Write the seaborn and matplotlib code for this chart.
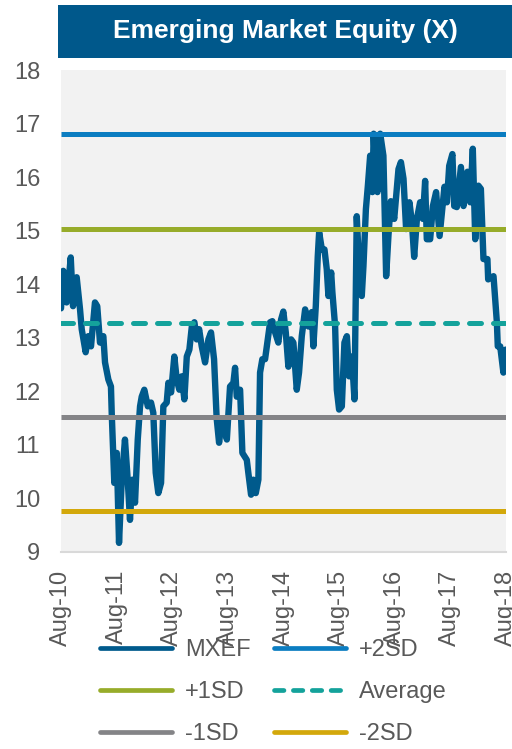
import matplotlib
matplotlib.use("Agg")
import matplotlib.pyplot as plt
import matplotlib.dates as mdates
from matplotlib.lines import Line2D
from matplotlib.patches import Rectangle
import pandas as pd
import seaborn as sns

# MXEF forward P/E observations
dates = [
    "2010-08-01", "2010-08-16", "2010-09-07", "2010-10-04", "2010-10-19", "2010-11-12",
    "2010-12-04", "2010-12-15", "2011-01-10", "2011-01-27", "2011-02-14", "2011-03-12",
    "2011-03-27", "2011-04-14", "2011-05-06", "2011-05-17", "2011-06-08", "2011-06-25",
    "2011-06-30", "2011-07-17", "2011-08-02", "2011-08-17", "2011-09-04", "2011-09-25",
    "2011-10-13", "2011-10-28", "2011-11-12", "2011-11-30", "2011-12-18", "2012-01-02",
    "2012-01-13", "2012-01-30", "2012-02-22", "2012-03-14", "2012-03-29", "2012-04-14",
    "2012-05-01", "2012-05-19", "2012-06-03", "2012-06-25", "2012-07-06", "2012-07-24",
    "2012-08-14", "2012-08-30", "2012-09-16", "2012-10-02", "2012-10-19", "2012-11-04",
    "2012-11-21", "2012-12-07", "2012-12-24", "2013-01-08", "2013-01-24", "2013-02-10",
    "2013-03-04", "2013-03-26", "2013-04-12", "2013-05-02", "2013-05-19", "2013-06-04",
    "2013-06-22", "2013-07-09", "2013-07-25", "2013-08-15", "2013-09-06", "2013-09-17",
    "2013-09-28", "2013-10-20", "2013-11-04", "2013-12-03", "2013-12-13", "2013-12-31",
    "2014-01-15", "2014-01-31", "2014-02-17", "2014-02-28", "2014-03-15", "2014-04-02",
    "2014-04-20", "2014-05-05", "2014-05-20", "2014-06-07", "2014-06-28", "2014-07-16",
    "2014-07-31", "2014-08-16", "2014-09-02", "2014-09-20", "2014-10-05", "2014-10-27",
    "2014-11-11", "2014-11-29", "2014-12-21", "2015-01-12", "2015-02-03", "2015-02-13",
    "2015-03-01", "2015-03-14", "2015-03-23", "2015-04-10", "2015-04-27", "2015-05-12",
    "2015-05-23", "2015-06-10", "2015-06-18", "2015-07-06", "2015-07-17", "2015-08-01",
    "2015-08-19", "2015-09-05", "2015-09-21", "2015-10-06", "2015-10-24", "2015-11-10",
    "2015-11-25", "2015-12-11", "2015-12-28", "2016-01-08", "2016-01-24", "2016-02-06",
    "2016-02-21", "2016-03-07", "2016-03-15", "2016-03-25", "2016-04-09", "2016-04-27",
    "2016-05-18", "2016-06-05", "2016-06-20", "2016-07-06", "2016-07-28", "2016-08-25",
    "2016-09-10", "2016-09-27", "2016-10-14", "2016-11-05", "2016-11-21", "2016-12-06",
    "2016-12-24", "2017-01-14", "2017-02-01", "2017-02-16", "2017-02-27", "2017-03-21",
    "2017-04-08", "2017-04-29", "2017-05-22", "2017-06-23", "2017-07-09", "2017-07-24",
    "2017-08-14", "2017-08-26", "2017-09-12", "2017-10-09", "2017-10-26", "2017-11-21",
    "2017-12-09", "2017-12-26", "2018-01-11", "2018-02-01", "2018-02-17", "2018-03-06",
    "2018-04-01", "2018-04-06", "2018-05-11", "2018-06-02", "2018-06-08", "2018-06-24",
    "2018-07-15", "2018-07-31",
]
mxef = [
    13.55, 14.25, 13.66, 14.50, 13.59, 14.13,
    13.53, 13.16, 12.73, 13.03, 12.84, 13.66,
    13.59, 12.91, 13.03, 12.54, 12.22, 12.09,
    11.60, 10.29, 10.85, 9.17, 10.35, 11.10,
    10.35, 9.60, 10.35, 9.92, 11.10, 11.72,
    11.90, 12.03, 11.72, 11.79, 11.60, 10.48,
    10.10, 10.29, 11.72, 11.79, 12.16, 11.98,
    12.65, 12.22, 12.03, 12.28, 11.85, 12.65,
    12.78, 13.21, 13.29, 12.97, 13.16, 12.84,
    12.54, 12.97, 13.10, 12.60, 11.50, 11.04,
    11.47, 11.34, 11.10, 12.09, 12.16, 12.44,
    11.90, 12.03, 10.85, 10.72, 10.48, 10.07,
    10.35, 10.10, 10.35, 12.35, 12.60, 12.60,
    12.97, 13.29, 13.31, 13.10, 12.91, 13.34,
    13.49, 13.10, 12.46, 12.97, 12.91, 12.03,
    12.35, 13.03, 13.53, 13.21, 13.48, 12.84,
    13.59, 14.52, 14.97, 14.65, 14.65, 14.28,
    13.78, 14.22, 13.85, 13.21, 12.03, 11.66,
    11.72, 12.91, 13.03, 12.28, 12.65, 11.85,
    15.27, 14.28, 13.78, 14.34, 15.40, 15.84,
    16.40, 15.72, 16.81, 16.15, 15.72, 16.81,
    16.40, 14.15, 14.90, 15.55, 15.22, 16.15,
    16.28, 15.97, 15.03, 15.53, 15.16, 14.51,
    15.22, 15.53, 15.22, 15.93, 14.84, 14.84,
    15.46, 15.72, 14.90, 15.82, 15.53, 16.21,
    16.43, 15.46, 15.44, 16.19, 15.46, 16.10,
    15.53, 16.53, 14.84, 15.84, 15.78, 14.47,
    14.47, 14.09, 14.15, 13.29, 12.84, 12.84,
    12.35, 12.78,
]

# Reference bands around the long-run average
band_labels = ["+2SD", "+1SD", "Average", "-1SD", "-2SD"]
band_values = [16.80, 15.04, 13.28, 11.52, 9.77]
band_colors = ["#0b7dc1", "#97ac2a", "#14a29b", "#848487", "#d3a80b"]

title = "Emerging Market Equity (X)"
series_label = "MXEF"
series_color = "#005a8c"
text_color = "#595959"
axis_color = "#d9d9d9"

sns.set_style("white")
plt.rcParams["font.family"] = ["Liberation Sans", "DejaVu Sans"]

df = pd.DataFrame({"date": pd.to_datetime(dates), "value": mxef})

fig = plt.figure(figsize=(5.12, 7.49), dpi=100)

# Title banner
fig.patches.append(Rectangle((58 / 512, 1 - 58 / 749), 454 / 512, 53 / 749,
                             transform=fig.transFigure, facecolor="#00588b",
                             edgecolor="none", zorder=0))
fig.text(285 / 512, 1 - 31 / 749, title, color="white", fontsize=19,
         fontweight="bold", ha="center", va="center")

ax = fig.add_axes([61 / 512, 1 - 552 / 749, 445 / 512, 482 / 749])
ax.set_facecolor("#f2f2f2")

sns.lineplot(data=df, x="date", y="value", ax=ax, color=series_color,
             linewidth=4.6, solid_joinstyle="round", solid_capstyle="round",
             zorder=2, legend=False)

handles = {series_label: Line2D([], [], color=series_color, linewidth=3.4,
                                solid_capstyle="round")}
for lab, val, col in zip(band_labels, band_values, band_colors):
    if lab == "Average":
        ax.axhline(val, color=col, linewidth=3.6, linestyle=(0, (2.4, 2.4)),
                   dash_capstyle="round", zorder=3)
        handles[lab] = Line2D([], [], color=col, linewidth=3.4,
                              linestyle=(0, (2.0, 2.0)), dash_capstyle="round")
    else:
        ax.axhline(val, color=col, linewidth=3.6, zorder=3,
                   solid_capstyle="butt")
        handles[lab] = Line2D([], [], color=col, linewidth=3.4,
                              solid_capstyle="round")

ax.set_ylim(9, 18)
ax.set_yticks(range(9, 19))
ax.set_xlim(pd.Timestamp("2010-08-01"), pd.Timestamp("2018-08-01"))
ax.set_xticks([pd.Timestamp(f"{y}-08-01") for y in range(2010, 2019)])
ax.xaxis.set_major_formatter(mdates.DateFormatter("%b-%y"))
ax.set_xlabel("")
ax.set_ylabel("")

ax.tick_params(axis="y", length=0, pad=15, labelsize=17, labelcolor=text_color)
ax.tick_params(axis="x", length=5, width=1.5, color=axis_color, pad=8,
               labelsize=17, labelcolor=text_color, labelrotation=90)
for side in ["left", "right", "top"]:
    ax.spines[side].set_visible(False)
ax.spines["bottom"].set_color(axis_color)
ax.spines["bottom"].set_linewidth(1.5)

order = [series_label, "+1SD", "-1SD", "+2SD", "Average", "-2SD"]
fig.legend([handles[k] for k in order], order, loc="upper left",
           bbox_to_anchor=(100 / 512, 1 - 639 / 749), ncol=2, frameon=False,
           fontsize=17, labelcolor=text_color, handlelength=3.05,
           handletextpad=0.55, columnspacing=1.0, labelspacing=0.85,
           borderpad=0, borderaxespad=0)

fig.savefig("out.png", dpi=100)
